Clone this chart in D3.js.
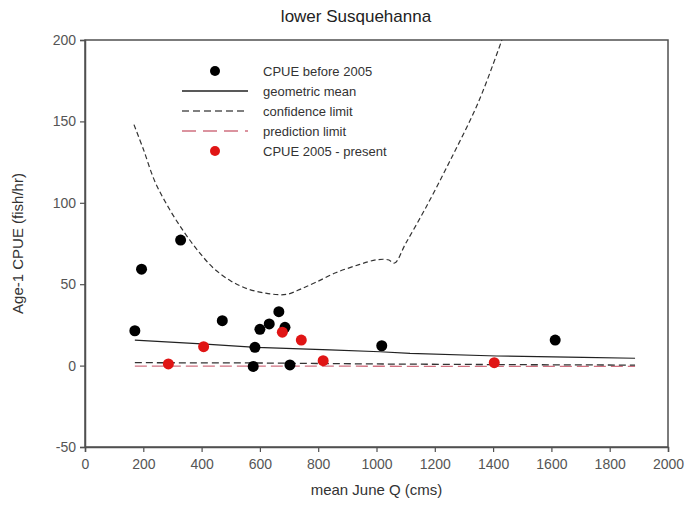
<!DOCTYPE html>
<html><head><meta charset="utf-8">
<script src="https://cdn.jsdelivr.net/npm/d3@7"></script>
<style>body{margin:0;background:#fff}svg{display:block}</style>
</head><body>
<script>
// ---- data ----
const title = "lower Susquehanna";
const xLabel = "mean June Q (cms)";
const yLabel = "Age-1 CPUE (fish/hr)";
const xTicks = [0,200,400,600,800,1000,1200,1400,1600,1800,2000];
const yTicks = [-50,0,50,100,150,200];

const beforeQ    = [171,194,328,471,583,577,600,632,665,686,703,1018,1613];
const beforeCPUE = [21.4,59.2,77.1,27.6,11.2,-0.5,22.3,25.6,33.1,23.5,0.4,12.2,15.7];

const afterQ    = [286,407,677,742,817,1404];
const afterCPUE = [1.0,11.6,20.5,15.7,3.0,1.8];

const gmQ    = [171,400,589,840,1012,1115,1412,1709,1887];
const gmCPUE = [15.7,13.3,11.2,9.6,8.5,7.5,5.9,5.1,4.5];

const upConfQ    = [168,200,240,290,340,390,440,500,560,620,670,698,740,790,860,940,1000,1040,1062,1100,1166,1250,1350,1430];
const upConfCPUE = [148,133,113,96,82,70,60,52,47,44.5,43.5,44,47,51,57,62,65,65,63,75,96,125,162,200];

const loConfQ    = [171,600,1000,1430,1887];
const loConfCPUE = [1.8,1.6,1.0,0.6,0.3];

const loPredQ    = [171,600,1000,1430,1887];
const loPredCPUE = [-0.3,-0.3,-0.4,-0.5,-0.5];

const legendLabels = ["CPUE before 2005","geometric mean","confidence limit","prediction limit","CPUE 2005 - present"];

// ---- drawing ----
const W = 691, H = 519;
const m = {left:85, right:W-668, top:40, bottom:H-447};
const svg = d3.select("body").append("svg").attr("width",W).attr("height",H)
  .style("font-family","Arial, 'Liberation Sans', sans-serif");

const x = d3.scaleLinear().domain([0,2000]).range([m.left, W-m.right]);
const y = d3.scaleLinear().domain([-50,200]).range([H-m.bottom, m.top]);

const axisColor = "#505050";
const labelColor = "#555";

svg.append("rect").attr("x",x(0)).attr("y",y(200)).attr("width",x(2000)-x(0)).attr("height",y(-50)-y(200))
  .attr("fill","none").attr("stroke",axisColor).attr("stroke-width",1.5);

const fmt = d => String(d);
const gx = svg.append("g").attr("transform",`translate(0,${y(-50)})`)
  .call(d3.axisBottom(x).tickValues(xTicks).tickSize(5).tickPadding(7).tickFormat(fmt));
const gy = svg.append("g").attr("transform",`translate(${x(0)},0)`)
  .call(d3.axisLeft(y).tickValues(yTicks).tickSize(5).tickPadding(4).tickFormat(fmt));
[gx,gy].forEach(g=>{
  g.select(".domain").attr("stroke",axisColor).attr("stroke-width",1.5);
  g.selectAll(".tick line").attr("stroke",axisColor).attr("stroke-width",1.2);
  g.selectAll(".tick text").attr("fill",labelColor).style("font-size","14px").style("font-family","Arial, 'Liberation Sans', sans-serif");
});

const line = d3.line().x(d=>x(d[0])).y(d=>y(d[1]));
const smooth = d3.line().x(d=>x(d[0])).y(d=>y(d[1])).curve(d3.curveCatmullRom);
svg.append("clipPath").attr("id","clipP").append("rect")
  .attr("x",x(0)).attr("y",y(200)).attr("width",x(2000)-x(0)).attr("height",y(-50)-y(200));
const plot = svg.append("g").attr("clip-path","url(#clipP)");

plot.append("path").datum(d3.zip(loPredQ,loPredCPUE)).attr("d",line)
  .attr("fill","none").attr("stroke","#d07080").attr("stroke-width",1.3).attr("stroke-dasharray","12,5");
plot.append("path").datum(d3.zip(loConfQ,loConfCPUE)).attr("d",line)
  .attr("fill","none").attr("stroke","#333").attr("stroke-width",1.3).attr("stroke-dasharray","7,4");
plot.append("path").datum(d3.zip(upConfQ,upConfCPUE)).attr("d",smooth)
  .attr("fill","none").attr("stroke","#333").attr("stroke-width",1.2).attr("stroke-dasharray","5,3");
plot.append("path").datum(d3.zip(gmQ,gmCPUE)).attr("d",line)
  .attr("fill","none").attr("stroke","#222").attr("stroke-width",1.2);

plot.selectAll("circle.before").data(d3.zip(beforeQ,beforeCPUE)).join("circle").attr("class","before")
  .attr("cx",d=>x(d[0])).attr("cy",d=>y(d[1])).attr("r",5.5).attr("fill","#000");
plot.selectAll("circle.after").data(d3.zip(afterQ,afterCPUE)).join("circle").attr("class","after")
  .attr("cx",d=>x(d[0])).attr("cy",d=>y(d[1])).attr("r",5.5).attr("fill","#e01515");

svg.append("text").attr("x",356).attr("y",22).attr("text-anchor","middle")
  .style("font-size","17px").attr("fill","#222").text(title);
svg.append("text").attr("x",(x(0)+x(2000))/2).attr("y",495).attr("text-anchor","middle")
  .style("font-size","15px").attr("fill","#333").text(xLabel);
svg.append("text").attr("transform",`translate(23,${(y(200)+y(-50))/2}) rotate(-90)`).attr("text-anchor","middle")
  .style("font-size","15px").attr("fill","#333").text(yLabel);

const lg = svg.append("g");
const rowY = [71,91,111,131,151];
const lx0 = 182, lx1 = 248, tx = 263;
lg.append("circle").attr("cx",215).attr("cy",rowY[0]).attr("r",5).attr("fill","#000");
lg.append("line").attr("x1",lx0).attr("x2",lx1).attr("y1",rowY[1]).attr("y2",rowY[1]).attr("stroke","#222").attr("stroke-width",1.3);
lg.append("line").attr("x1",lx0).attr("x2",lx1).attr("y1",rowY[2]).attr("y2",rowY[2]).attr("stroke","#555").attr("stroke-width",1.3).attr("stroke-dasharray","7,4");
lg.append("line").attr("x1",lx0).attr("x2",lx1).attr("y1",rowY[3]).attr("y2",rowY[3]).attr("stroke","#d07080").attr("stroke-width",1.3).attr("stroke-dasharray","14,7");
lg.append("circle").attr("cx",215).attr("cy",rowY[4]).attr("r",5).attr("fill","#e01515");
legendLabels.forEach((t,i)=>{
  lg.append("text").attr("x",tx).attr("y",rowY[i]+5).style("font-size","13px").attr("fill","#333").text(t);
});
</script>
</body></html>
